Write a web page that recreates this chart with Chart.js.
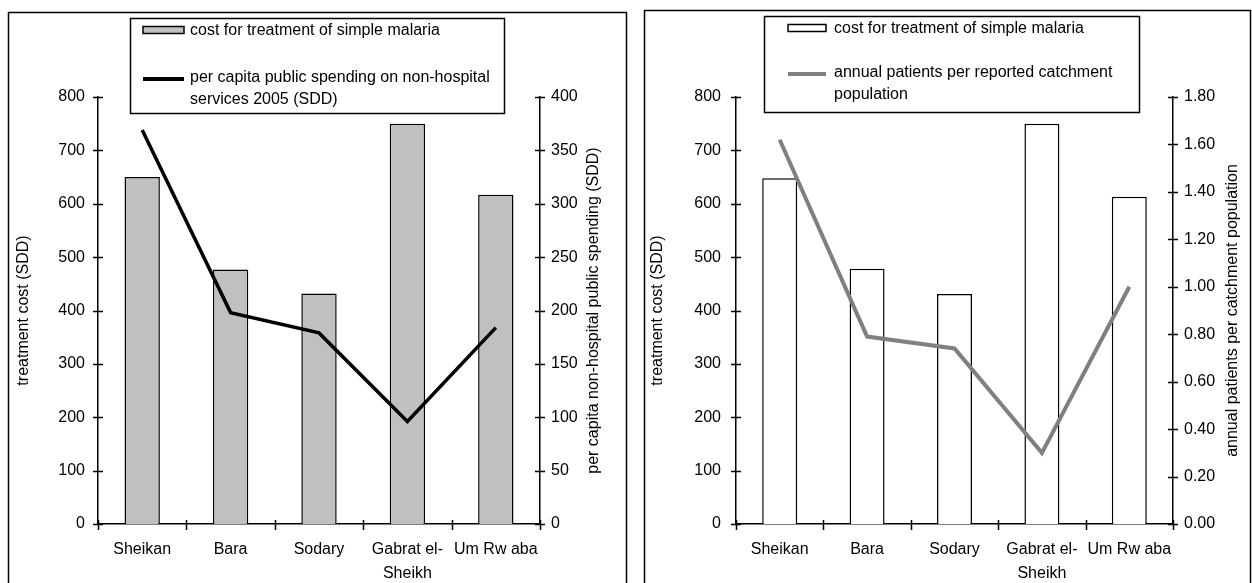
<!DOCTYPE html>
<html>
<head>
<meta charset="utf-8">
<script src="https://cdn.jsdelivr.net/npm/chart.js@4.4.1/dist/chart.umd.min.js"></script>
<style>
  html, body { margin: 0; padding: 0; background: #fff; }
  body { width: 1252px; height: 583px; position: relative; overflow: hidden; }
  .wrap { position: absolute; top: 0; height: 583px; }
  #w1 { left: 0; width: 630px; }
  #w2 { left: 632px; width: 620px; }
</style>
</head>
<body>
<div class="wrap" id="w1"><canvas id="c1"></canvas></div>
<div class="wrap" id="w2"><canvas id="c2"></canvas></div>
<script>
// data
var districts = ['Sheikan', 'Bara', 'Sodary', ['Gabrat el-', 'Sheikh'], 'Um Rw aba'];
var treatmentCost1 = [650, 477, 432, 750, 617];
var spendingPerCapita = [369, 198, 179, 96, 184];
var treatmentCost2 = [648, 478, 431, 750, 613];
var patientsPerPop = [1.62, 0.79, 0.74, 0.30, 1.00];

var FONT = 'Liberation Sans, Arial, sans-serif';
Chart.defaults.font.family = FONT;
Chart.defaults.font.size = 16;
Chart.defaults.color = '#000';

// excel-ish decorations: box, cross ticks, axis titles, legend
var excelBits = {
  id: 'excelBits',
  afterDraw: function (chart) {
    var o = chart.options.plugins.excelBits;
    var ctx = chart.ctx, a = chart.chartArea;
    var x = chart.scales.x, y = chart.scales.y, y1 = chart.scales.y1;
    ctx.save();
    ctx.strokeStyle = '#000';
    ctx.lineWidth = 1.5;
    // outer box
    ctx.strokeRect(o.box[0], o.box[1], o.box[2], o.box[3]);
    // ticks crossing the axes
    ctx.beginPath();
    y.ticks.forEach(function (t) {
      var py = Math.round(y.getPixelForValue(t.value)) + 0.5;
      ctx.moveTo(a.left - 5, py); ctx.lineTo(a.left + 5, py);
    });
    y1.ticks.forEach(function (t) {
      var py = Math.round(y1.getPixelForValue(t.value)) + 0.5;
      ctx.moveTo(a.right - 5, py); ctx.lineTo(a.right + 5, py);
    });
    for (var i = 0; i <= districts.length; i++) {
      var px = Math.round(x.getPixelForValue(i - 0.5)) + 0.5;
      ctx.moveTo(px, a.bottom - 4); ctx.lineTo(px, a.bottom + 6);
    }
    ctx.stroke();

    // axis titles, both read bottom to top
    ctx.fillStyle = '#000';
    ctx.font = '16px ' + FONT;
    ctx.textAlign = 'center';
    ctx.textBaseline = 'middle';
    var midY = (a.top + a.bottom) / 2;
    [[o.leftTitleX, o.leftTitle], [o.rightTitleX, o.rightTitle]].forEach(function (tt) {
      ctx.save();
      ctx.translate(tt[0], midY);
      ctx.rotate(-Math.PI / 2);
      ctx.fillText(tt[1], 0, 0);
      ctx.restore();
    });

    // legend
    var L = o.legend;
    ctx.fillStyle = '#fff';
    ctx.fillRect(L.x, L.y, L.w, L.h);
    ctx.strokeRect(L.x, L.y, L.w, L.h);
    ctx.fillStyle = L.barFill;
    ctx.fillRect(L.swX, L.barY, L.swW, 7);
    ctx.strokeRect(L.swX, L.barY, L.swW, 7);
    ctx.strokeStyle = L.lineColor;
    ctx.lineWidth = 4;
    ctx.beginPath();
    ctx.moveTo(L.swX, L.lineY); ctx.lineTo(L.swX + L.swW, L.lineY);
    ctx.stroke();
    ctx.fillStyle = '#000';
    ctx.textAlign = 'left';
    ctx.fillText(chart.data.datasets[1].label, L.textX, L.barY + 4);
    var lines = chart.data.datasets[0].label;
    ctx.fillText(lines[0], L.textX, L.lineY - 1);
    ctx.fillText(lines[1], L.textX, L.lineY + 21);
    ctx.restore();
  }
};

function makeChart(id, cfg) {
  var el = document.getElementById(id);
  return new Chart(el, {
    data: {
      labels: districts,
      datasets: [
        {
          type: 'line', label: cfg.lineLabel, data: cfg.lineData, yAxisID: 'y1',
          borderColor: cfg.lineColor, borderWidth: cfg.lineWidth, pointRadius: 0,
          tension: 0, order: 0
        },
        {
          type: 'bar', label: 'cost for treatment of simple malaria', data: cfg.barData, yAxisID: 'y',
          backgroundColor: cfg.barFill, borderColor: '#000', borderWidth: 1.5,
          barPercentage: 0.4, categoryPercentage: 1, order: 1
        }
      ]
    },
    options: {
      responsive: true,
      maintainAspectRatio: false,
      animation: false,
      events: [],
      layout: { padding: { top: 97, left: 0, right: 0, bottom: 0 } },
      plugins: {
        legend: { display: false },
        tooltip: { enabled: false },
        excelBits: cfg.deco
      },
      scales: {
        x: {
          grid: { display: false, drawTicks: false },
          border: { display: true, color: '#000', width: 1.5 },
          ticks: { padding: 14, maxRotation: 0, autoSkip: false, font: { size: 16, lineHeight: 1.5 } },
          afterFit: function (s) { s.height = 59; }
        },
        y: {
          position: 'left', min: 0, max: 800,
          grid: { display: false, drawTicks: false },
          border: { display: true, color: '#000', width: 1.5 },
          ticks: { stepSize: 100, padding: cfg.leftPad },
          afterFit: function (s) { s.width = cfg.leftW; }
        },
        y1: {
          position: 'right', min: 0, max: cfg.rMax,
          grid: { display: false, drawTicks: false },
          border: { display: true, color: '#000', width: 1.5 },
          ticks: { stepSize: cfg.rStep, padding: 11, callback: cfg.rFmt },
          afterFit: function (s) { s.width = cfg.rightW; }
        }
      }
    },
    plugins: [excelBits]
  });
}

makeChart('c1', {
  barData: treatmentCost1, lineData: spendingPerCapita,
  lineLabel: ['per capita public spending on non-hospital', 'services 2005 (SDD)'],
  lineColor: '#000', lineWidth: 3.5, barFill: '#c0c0c0',
  leftW: 98, rightW: 90, leftPad: 13,
  rMax: 400, rStep: 50, rFmt: function (v) { return v; },
  deco: {
    box: [8.5, 12.5, 618, 600],
    leftTitle: 'treatment cost (SDD)', leftTitleX: 24,
    rightTitle: 'per capita non-hospital public spending (SDD)', rightTitleX: 594,
    legend: { x: 130.5, y: 18.5, w: 374, h: 95, swX: 143, swW: 41, barY: 26.5, lineY: 79,
      textX: 190, barFill: '#c0c0c0', lineColor: '#000' }
  }
});

makeChart('c2', {
  barData: treatmentCost2, lineData: patientsPerPop,
  lineLabel: ['annual patients per reported catchment', 'population'],
  lineColor: '#808080', lineWidth: 4, barFill: '#fff',
  leftW: 104, rightW: 79, leftPad: 15,
  rMax: 1.8, rStep: 0.2, rFmt: function (v) { return Number(v).toFixed(2); },
  deco: {
    box: [12.5, 10.5, 606, 600],
    leftTitle: 'treatment cost (SDD)', leftTitleX: 26,
    rightTitle: 'annual patients per catchment population', rightTitleX: 601,
    legend: { x: 132.5, y: 16.5, w: 375, h: 96, swX: 156, swW: 38, barY: 24.5, lineY: 74,
      textX: 202, barFill: '#fff', lineColor: '#808080' }
  }
});
</script>
</body>
</html>
